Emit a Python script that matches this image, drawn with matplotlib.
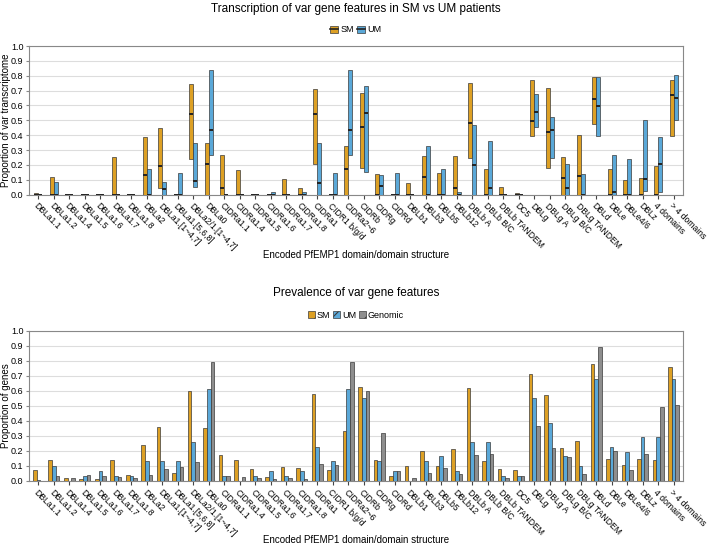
import matplotlib
matplotlib.use("Agg")
import matplotlib.pyplot as plt
from matplotlib.patches import Patch
from matplotlib.lines import Line2D
from matplotlib.legend_handler import HandlerTuple
import numpy as np

plt.rcParams['font.family'] = ['Liberation Sans', 'DejaVu Sans']
plt.rcParams['hatch.linewidth'] = 0.8

categories = ["DBLa1.1", "DBLa1.2", "DBLa1.4", "DBLa1.5", "DBLa1.6", "DBLa1.7", "DBLa1.8",
              "DBLa2", "DBLa1.[1~4,7]", "DBLa1.[5,6,8]", "DBLa2/1.[1~4,7]", "DBLa0",
              "CIDRa1.1", "CIDRa1.4", "CIDRa1.5", "CIDRa1.6", "CIDRa1.7", "CIDRa1.8",
              "CIDRa1", "CIDR1 b/g/d", "CIDRa2~6", "CIDRb", "CIDRg", "CIDRd",
              "DBLb1", "DBLb3", "DBLb5", "DBLb12", "DBLb A", "DBLb B/C", "DBLb TANDEM",
              "DC5", "DBLg", "DBLg A", "DBLg B/C", "DBLg TANDEM", "DBLd", "DBLe",
              "DBLe4/6", "DBLz", "4 domains", "> 4 domains"]

# Top panel: transcription ranges (min, median, max)
sm_min = [0, 0, 0, 0, 0, 0, 0, 0, 0.047, 0, 0.24, 0,
          0, 0, 0, 0, 0, 0, 0.204, 0, 0, 0.178, 0, 0,
          0, 0, 0, 0, 0.243, 0, 0, 0, 0.391, 0.178, 0, 0, 0.474, 0,
          0, 0, 0, 0.393]
sm_med = [0, 0, 0, 0, 0, 0, 0, 0.133, 0.19, 0, 0.541, 0.209,
          0.045, 0, 0, 0, 0, 0, 0.541, 0, 0.169, 0.456, 0, 0,
          0, 0.121, 0, 0.045, 0.479, 0, 0, 0, 0.497, 0.418, 0.11, 0.128, 0.64, 0,
          0, 0, 0, 0.667]
sm_max = [0.013, 0.12, 0, 0, 0, 0.256, 0, 0.39, 0.449, 0, 0.746, 0.348,
          0.267, 0.166, 0, 0, 0.108, 0.043, 0.71, 0, 0.326, 0.681, 0.137, 0,
          0.079, 0.261, 0.148, 0.261, 0.753, 0.171, 0.049, 0.013, 0.769, 0.719, 0.256, 0.398, 0.791, 0.169,
          0.097, 0.115, 0.193, 0.771]
um_min = [0, 0, 0, 0, 0, 0, 0, 0, 0, 0, 0.054, 0.267,
          0, 0, 0, 0, 0, 0, 0, 0, 0.267, 0.153, 0, 0,
          0, 0, 0, 0, 0, 0, 0, 0, 0.456, 0.243, 0, 0, 0.396, 0,
          0, 0.027, 0.016, 0.499]
um_med = [0, 0, 0, 0, 0, 0, 0, 0, 0.038, 0, 0.092, 0.438,
          0, 0, 0, 0, 0, 0, 0.079, 0, 0.438, 0.548, 0.061, 0,
          0, 0, 0, 0, 0.196, 0.047, 0, 0, 0.555, 0.434, 0.047, 0, 0.598, 0.018,
          0, 0.108, 0.207, 0.647]
um_max = [0, 0.088, 0, 0, 0, 0, 0, 0.171, 0.088, 0.148, 0.344, 0.838,
          0, 0, 0, 0.02, 0, 0.016, 0.344, 0.148, 0.838, 0.73, 0.135, 0.148,
          0, 0.326, 0.175, 0.018, 0.467, 0.362, 0, 0, 0.676, 0.524, 0.207, 0.137, 0.791, 0.265,
          0.238, 0.503, 0.389, 0.802]

# Bottom panel: prevalence
prev_sm = [0.071, 0.138, 0.016, 0.009, 0.009, 0.138, 0.038, 0.236, 0.36, 0.053, 0.596, 0.353,
           0.169, 0.138, 0.076, 0.022, 0.091, 0.084, 0.58, 0.071, 0.329, 0.627, 0.138, 0.031,
           0.098, 0.198, 0.098, 0.213, 0.618, 0.129, 0.076, 0.069, 0.709, 0.573, 0.22, 0.267,
           0.778, 0.144, 0.107, 0.144, 0.138, 0.756]
prev_um = [0.002, 0.098, 0.0, 0.031, 0.064, 0.033, 0.033, 0.129, 0.129, 0.129, 0.26, 0.613,
           0.033, 0.0, 0.031, 0.064, 0.033, 0.064, 0.227, 0.129, 0.613, 0.551, 0.129, 0.062,
           0.0, 0.129, 0.162, 0.064, 0.258, 0.258, 0.031, 0.031, 0.549, 0.387, 0.162, 0.096,
           0.678, 0.227, 0.193, 0.289, 0.289, 0.678]
prev_gen = [0.0, 0.033, 0.018, 0.038, 0.033, 0.027, 0.018, 0.04, 0.08, 0.089, 0.122, 0.791,
            0.031, 0.027, 0.016, 0.013, 0.016, 0.011, 0.111, 0.102, 0.791, 0.596, 0.32, 0.067,
            0.016, 0.053, 0.087, 0.042, 0.169, 0.176, 0.02, 0.033, 0.364, 0.22, 0.156, 0.042,
            0.893, 0.196, 0.071, 0.176, 0.493, 0.504]

yticks = [0.0, 0.1, 0.2, 0.3, 0.4, 0.5, 0.6, 0.7, 0.8, 0.9, 1.0]

C_SM = '#DDA024'
C_UM = '#5AA8D8'
C_GEN = '#8E8E8E'
EDGE = '#3a3a3a'

W, H = 709, 547
fig = plt.figure(figsize=(W / 100, H / 100), dpi=100)

def axrect(left, top, right, bottom):
    return [left / W, 1 - bottom / H, (right - left) / W, (bottom - top) / H]

AX_L, AX_R = 29, 683
ax1 = fig.add_axes(axrect(AX_L, 46, AX_R, 194.6))
ax2 = fig.add_axes(axrect(AX_L, 330.7, AX_R, 480.7))

x = np.arange(len(categories))

def style(ax, ylabel, xlab_y):
    ax.set_xlim(-0.6, len(categories) - 0.4)
    ax.set_ylim(0, 1.0)
    ax.set_yticks(yticks)
    ax.set_yticklabels([f"{t:.1f}" for t in yticks], fontsize=6.5)
    ax.yaxis.grid(True, color='#dddddd', linewidth=0.8)
    ax.set_axisbelow(True)
    for s in ax.spines.values():
        s.set_color('#888888')
        s.set_linewidth(0.8)
    ax.set_xticks(x)
    ax.set_xticklabels(categories, rotation=-45, ha='left', va='top',
                       rotation_mode='anchor', fontsize=6.2)
    ax.tick_params(axis='x', length=3, color='#444444', pad=2)
    ax.tick_params(axis='y', length=2, color='#888888', pad=2)
    ax.set_ylabel(ylabel, fontsize=7, va='center')
    ax.yaxis.set_label_coords(-(AX_L - 6) / (AX_R - AX_L), 0.5)
    ax.set_xlabel("Encoded PfEMP1 domain/domain structure", fontsize=7, va='center')
    ax.xaxis.set_label_coords(0.5, xlab_y)

# Top panel
bw = 0.25
sm_min_a, sm_max_a = np.array(sm_min), np.array(sm_max)
um_min_a, um_max_a = np.array(um_min), np.array(um_max)
ax1.bar(x - bw / 2, sm_max_a - sm_min_a, bottom=sm_min_a, width=bw, color=C_SM,
        edgecolor=EDGE, linewidth=0.5, zorder=3)
ax1.bar(x + bw / 2, um_max_a - um_min_a, bottom=um_min_a, width=bw, color=C_UM,
        edgecolor=EDGE, linewidth=0.5, zorder=3)
ax1.hlines(sm_med, x - bw, x, colors='#222222', linewidth=1.4, zorder=4)
ax1.hlines(um_med, x, x + bw, colors='#222222', linewidth=1.4, zorder=4)
style(ax1, "Proportion of var transcriptome", -(255 - 194.6) / 148.6)
fig.text(356 / W, 1 - 9 / H, "Transcription of var gene features in SM vs UM patients",
         ha='center', va='center', fontsize=8.5)
med_line = Line2D([], [], color='#222222', linewidth=1.2)
fig.legend(handles=[(Patch(facecolor=C_SM, edgecolor=EDGE, linewidth=0.5), med_line),
                    (Patch(facecolor=C_UM, edgecolor=EDGE, linewidth=0.5), med_line)],
           labels=['SM', 'UM'],
           handler_map={tuple: HandlerTuple(ndivide=1)},
           loc='center', bbox_to_anchor=(356 / W, 1 - 30 / H), ncol=2, frameon=False,
           fontsize=6.5, handlelength=0.8, handleheight=0.8, handletextpad=0.3,
           columnspacing=0.4, borderaxespad=0)

# Bottom panel
bw2 = 0.23
ax2.bar(x - bw2, prev_sm, width=bw2, color=C_SM, edgecolor=EDGE, linewidth=0.5, zorder=3)
ax2.bar(x, prev_um, width=bw2, color=C_UM, edgecolor=EDGE, linewidth=0.5, zorder=3)
ax2.bar(x + bw2, prev_gen, width=bw2, color=C_GEN, edgecolor=EDGE, linewidth=0.5, zorder=3)
style(ax2, "Proportion of genes", -(540 - 480.7) / 150)
fig.text(356 / W, 1 - 293 / H, "Prevalence of var gene features",
         ha='center', va='center', fontsize=8.5)
fig.legend(handles=[Patch(facecolor=C_SM, edgecolor=EDGE, hatch='//', linewidth=0.5, label='SM'),
                    Patch(facecolor=C_UM, edgecolor=EDGE, hatch='//', linewidth=0.5, label='UM'),
                    Patch(facecolor=C_GEN, edgecolor=EDGE, hatch='//', linewidth=0.5, label='Genomic')],
           loc='center', bbox_to_anchor=(356 / W, 1 - 315 / H), ncol=3, frameon=False,
           fontsize=6.5, handlelength=0.8, handleheight=0.8, handletextpad=0.2,
           columnspacing=0.3, borderaxespad=0)

fig.savefig("out.png", dpi=100)
